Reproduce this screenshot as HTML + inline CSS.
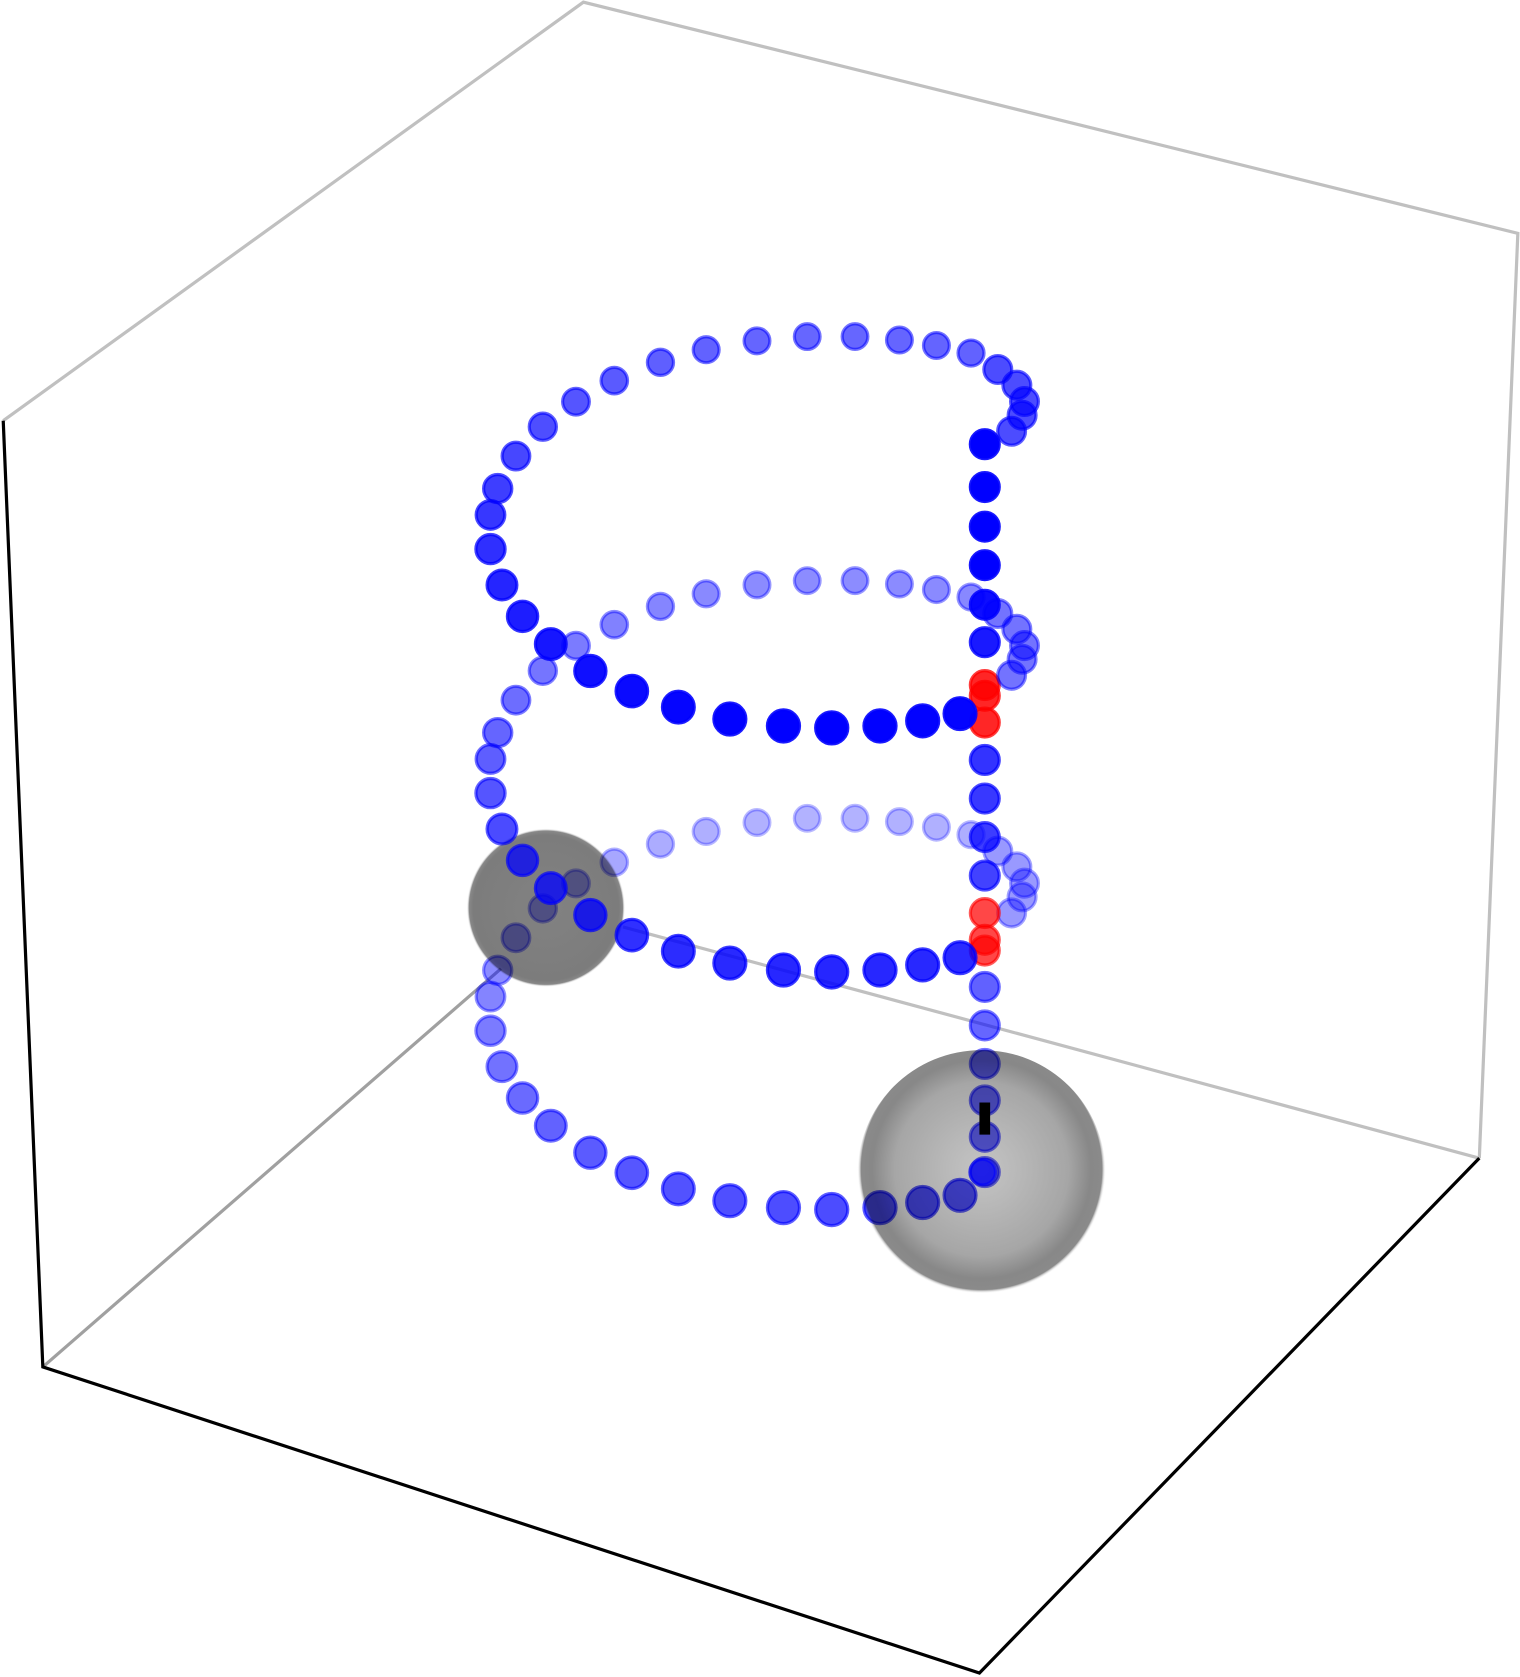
<!DOCTYPE html>
<html><head><meta charset="utf-8"><style>
html,body{margin:0;padding:0;background:#fff;}
svg{display:block;}
</style></head><body>
<svg id="chart" width="1520" height="1677" viewBox="0 0 1420 1566.7" xmlns="http://www.w3.org/2000/svg">
<defs>
<radialGradient id="sph2" cx="50%" cy="48%" r="50%">
<stop offset="0%" stop-color="#c4c4c4"/>
<stop offset="30%" stop-color="#b8b8b8"/>
<stop offset="70%" stop-color="#a6a6a6"/>
<stop offset="88%" stop-color="#888"/>
<stop offset="97%" stop-color="#8a8a8a"/>
<stop offset="100%" stop-color="#fff" stop-opacity="0"/>
</radialGradient>
<radialGradient id="sph1" cx="50%" cy="50%" r="50%">
<stop offset="0%" stop-color="#828282"/>
<stop offset="92%" stop-color="#7c7c7c"/>
<stop offset="97%" stop-color="#888"/>
<stop offset="100%" stop-color="#fff" stop-opacity="0"/>
</radialGradient>
</defs>
<g fill="none" stroke-width="3">
<polyline points="3,393 545,2 1418,218 1382,1082" stroke="#c0c0c0"/>
<line x1="1382" y1="1082" x2="582" y2="866" stroke="#c0c0c0"/>
<line x1="468" y1="905" x2="40" y2="1277" stroke="#a0a0a0"/>
</g>
<g id="layerBack"></g>
<g id="layerSph"></g>
<g id="layerFront"></g>
<g fill="none" stroke="#000" stroke-width="3">
<polyline points="3,393 40,1277 915,1563 1382,1082"/>
</g>
</svg>
<script>
// ring angles in degrees (0 = right, 90 = back, 270 = front)
const ringAngles = [66,72.2,78.6,86.1,94.1,102.6,111.5,120,129.4,138.3,147.5,157.2,167.2,175,185,195.7,205.5,214.9,225.2,234.3,243.4,252.7,261.9,270,278.1,285.4,292];
// ring height levels (screen-space centre y of each loop) and depth base alpha
const ringLevels = [497, 725, 947];
const ringAlpha = [0.8, 0.65, 0.5];
// curl points where each ring meets the column
const curlAngles = [59.7,54.2,49.8,47,44.4];
const curlRadius = [0.961,0.924,0.872,0.815,0.735];
// vertical column values (screen y) and colours
const columnY = [415,455,492,528,565,600,640,650,675,710,746,782,818,853,878,888,922,958,994,1028,1062,1095];
const columnColor = ['b','b','b','b','b','b','r','r','r','b','b','b','b','r','r','r','b','b','b','b','b','b'];
const columnAlpha = [1,1,1,1,0.95,0.9,0.85,0.85,0.85,0.8,0.78,0.76,0.74,0.72,0.72,0.72,0.62,0.6,0.6,0.6,0.6,0.6];

const NS='http://www.w3.org/2000/svg';
const CX=777, RX=320, RY=183, COLX=920;
const back=document.getElementById('layerBack');
const front=document.getElementById('layerFront');
const sph=document.getElementById('layerSph');
function sx(t,r){return CX+RX*r*Math.cos(t*Math.PI/180);}
function sy(lv,t,r){return lv-RY*r*Math.sin(t*Math.PI/180);}
function dot(layer,x,y,r,a,col,name){
  const c=document.createElementNS(NS,'circle');
  c.setAttribute('cx',x);c.setAttribute('cy',y);c.setAttribute('r',r);
  c.setAttribute('fill',col);c.setAttribute('fill-opacity',a);
  c.setAttribute('stroke',col);c.setAttribute('stroke-opacity',Math.min(1,a*0.9));c.setAttribute('stroke-width',3);
  
  
  layer.appendChild(c);
}
function drawRing(i,layer){
  const lv=ringLevels[i];
  ringAngles.forEach(t=>{
    const s=Math.sin(t*Math.PI/180);
    dot(layer,sx(t,1),sy(lv,t,1),13.5-1.5*s,Math.max(0.15,ringAlpha[i]-0.2*s),'#0000ff','ring-'+(i+1)+'-point');
  });
  curlAngles.forEach((t,j)=>{
    dot(layer,sx(t,curlRadius[j]),sy(lv,t,curlRadius[j]),13,Math.max(0.15,ringAlpha[i]-0.1),'#0000ff','ring-'+(i+1)+'-curl-point');
  });
}
drawRing(2,back);
columnY.forEach((y,k)=>{
  const layer = y>900 ? back : front;
  dot(layer,COLX,y,13.5,columnAlpha[k],columnColor[k]==='r'?'#ff0000':'#0000ff',columnColor[k]==='r'?'column-point-red':'column-point');
});
const bar=document.createElementNS(NS,'rect');
bar.setAttribute('x',COLX-5);bar.setAttribute('y',1030);bar.setAttribute('width',10);bar.setAttribute('height',30);bar.setAttribute('fill','#000');


back.appendChild(bar);
function sphere(cx,cy,r,fill,name){
  const c=document.createElementNS(NS,'circle');
  c.setAttribute('cx',cx);c.setAttribute('cy',cy);c.setAttribute('r',r);c.setAttribute('fill',fill);
  c.setAttribute('style','mix-blend-mode:multiply');
  
  
  sph.appendChild(c);
}
sphere(510,848,74,'url(#sph1)','sphere-left');
sphere(917,1097,116,'url(#sph2)','sphere-right');
dot(front,COLX-2,1095,12,0.6,'#0000ff','column-point');
drawRing(1,front);
drawRing(0,front);
</script>
</body></html>
